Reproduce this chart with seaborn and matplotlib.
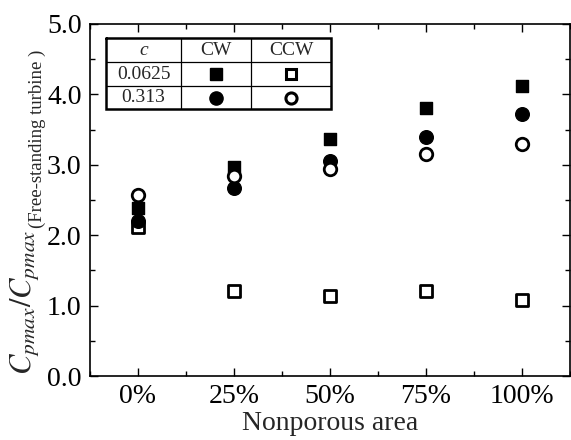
import matplotlib
matplotlib.use("Agg")
import matplotlib.pyplot as plt
import seaborn as sns
import numpy as np
import pandas as pd
from matplotlib.ticker import MultipleLocator

# ---- data ----
categories = ["0%", "25%", "50%", "75%", "100%"]
cw_small = [2.39, 2.97, 3.36, 3.81, 4.12]     # c=0.0625, CW  (filled square)
ccw_small = [2.12, 1.21, 1.14, 1.21, 1.08]    # c=0.0625, CCW (open square)
cw_large = [2.20, 2.67, 3.05, 3.40, 3.72]     # c=0.313, CW   (filled circle)
ccw_large = [2.57, 2.84, 2.94, 3.16, 3.29]    # c=0.313, CCW  (open circle)
yticks = [0.0, 1.0, 2.0, 3.0, 4.0, 5.0]

sns.set_theme(style="ticks")
plt.rcParams["font.family"] = ["Liberation Serif", "DejaVu Serif"]
plt.rcParams["mathtext.fontset"] = "stix"

W, H = 571, 440
fig = plt.figure(figsize=(W / 100, H / 100), dpi=100)
ax = fig.add_axes([90 / W, 1 - 376 / H, 480 / W, 352 / H])

x = np.arange(len(categories))
series = [
    (ccw_small, "s", "white", 8.2, 2.0),
    (cw_small, "s", "black", 9.3, 1.0),
    (cw_large, "o", "black", 9.8, 1.0),
    (ccw_large, "o", "white", 9.0, 2.0),
]
for vals, mk, fc, ms, mew in series:
    df = pd.DataFrame({"x": x, "y": vals})
    sns.scatterplot(data=df, x="x", y="y", ax=ax, marker=mk, s=ms ** 2,
                    facecolor=fc, edgecolor="black", linewidth=mew,
                    legend=False, zorder=3, clip_on=False)

ax.set_xlim(-0.5, 4.5)
ax.set_ylim(0, 5)
ax.set_xticks(x)
ax.set_xticklabels(categories)
ax.xaxis.set_minor_locator(MultipleLocator(0.5))
ax.set_yticks(yticks)
ax.set_yticklabels([f"{v:.1f}" for v in yticks])
ax.yaxis.set_minor_locator(MultipleLocator(0.5))
ax.tick_params(which="both", direction="in", top=True, right=True,
               labelsize=20, colors="black", width=1.0, pad=6)
ax.tick_params(which="major", length=6)
ax.tick_params(which="minor", length=3.5)
for sp in ax.spines.values():
    sp.set_linewidth(1.2)
    sp.set_color("black")

ax.set_xlabel("Nonporous area", fontsize=20, labelpad=1)
ax.set_ylabel("")

# ---- y label built from two pieces (main + smaller subscript note) ----
def px(xp, yp):
    return xp / W, 1 - yp / H

main = fig.text(*px(31, 375), r"$C_{pmax}/C_{pmax}$", fontsize=22, rotation=90,
                rotation_mode="anchor", ha="left", va="baseline")
fig.canvas.draw()
bb = main.get_window_extent(fig.canvas.get_renderer())
top_px = H - bb.y1
fig.text(*px(42, top_px - 2), "(Free-standing turbine )", fontsize=13.5,
         rotation=90, rotation_mode="anchor", ha="left", va="baseline")

# ---- inset table (legend) ----
tx0, tx1, ty0, ty1 = 106, 331, 38, 109
tax = fig.add_axes([tx0 / W, 1 - ty1 / H, (tx1 - tx0) / W, (ty1 - ty0) / H])
tax.set_xlim(tx0, tx1)
tax.set_ylim(ty1, ty0)
tax.axis("off")
tax.patch.set_alpha(0)
cols = [106, 181, 251, 331]
rows = [38, 62, 86, 109]
for cx in cols[1:-1]:
    tax.plot([cx, cx], [rows[0], rows[-1]], color="black", lw=0.9)
for ry in rows[1:-1]:
    tax.plot([cols[0], cols[-1]], [ry, ry], color="black", lw=0.9)
tax.plot([cols[0], cols[-1], cols[-1], cols[0], cols[0]],
         [rows[0], rows[0], rows[-1], rows[-1], rows[0]], color="black",
         lw=1.8, clip_on=False, solid_joinstyle="miter")
cxs = [(cols[i] + cols[i + 1]) / 2 for i in range(3)]
rys = [(rows[i] + rows[i + 1]) / 2 for i in range(3)]
fs = 14
tax.text(cxs[0], rys[0], "c", style="italic", ha="center", va="center", fontsize=fs)
tax.text(cxs[1], rys[0], "CW", ha="center", va="center", fontsize=fs)
tax.text(cxs[2], rys[0], "CCW", ha="center", va="center", fontsize=fs)
tax.text(cxs[0], rys[1], "0.0625", ha="center", va="center", fontsize=fs)
tax.text(cxs[0], rys[2], "0.313", ha="center", va="center", fontsize=fs)
tax.plot(cxs[1], rys[1], marker="s", ms=9, mfc="black", mec="black", ls="none")
tax.plot(cxs[2], rys[1], marker="s", ms=7.5, mfc="white", mec="black", mew=2.2, ls="none")
tax.plot(cxs[1], rys[2], marker="o", ms=9.5, mfc="black", mec="black", ls="none")
tax.plot(cxs[2], rys[2], marker="o", ms=8, mfc="white", mec="black", mew=2.2, ls="none")

fig.savefig("out.png", dpi=100)
